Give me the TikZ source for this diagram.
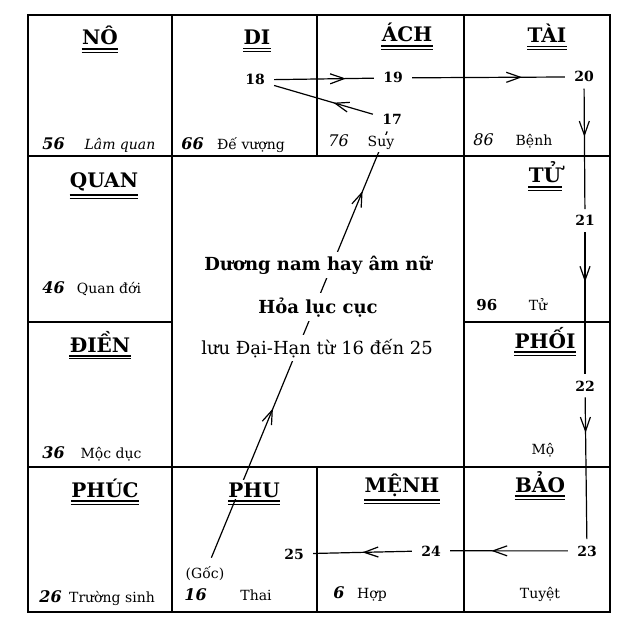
\documentclass[tikz,border=0pt]{standalone}
\usepackage{fontspec}
\setmainfont{DejaVu Serif}
\usetikzlibrary{arrows.meta,decorations.markings,backgrounds}

\tikzset{
  wall/.style={line width=1pt},
  palace/.style={font=\bfseries\fontsize{10}{12}\selectfont, inner xsep=0pt, inner ysep=1pt, anchor=base,
    append after command={
      ([yshift=-0.6pt]\tikzlastnode.south west) edge[line width=0.9pt] ([yshift=-0.6pt]\tikzlastnode.south east)
      ([yshift=-2.2pt]\tikzlastnode.south west) edge[line width=0.4pt] ([yshift=-2.2pt]\tikzlastnode.south east)}},
  age/.style={font=\bfseries\itshape\fontsize{8}{10}\selectfont, anchor=base west, inner sep=0pt},
  stage/.style={font=\fontsize{7}{8.5}\selectfont, anchor=base, inner sep=1pt},
  yr/.style={font=\bfseries\fontsize{7}{8.5}\selectfont, anchor=base, inner xsep=4.5pt, inner ysep=3pt},
  note/.style={font=\bfseries\fontsize{9}{11}\selectfont, anchor=base, inner sep=2pt, fill=white},
  hide line/.style={fill=white},
  link/.style={line width=0.6pt},
  flow/.style={postaction={decorate, decoration={markings,
    mark=at position #1 with {\arrow{Straight Barb[length=7pt,width=5pt]}}}}}
}

\begin{document}
\begin{tikzpicture}[x=0.5pt, y=-0.5pt]
  \useasboundingbox (0,0) rectangle (620,620);

  % the twelve palaces
  \draw[wall] (28,15) rectangle (610,612);
  \draw[wall] (28,156) -- (610,156);
  \draw[wall] (28,467) -- (610,467);
  \draw[wall] (28,322) -- (172,322);
  \draw[wall] (464,322) -- (610,322);
  \draw[wall] (172,15) -- (172,612);
  \draw[wall] (464,15) -- (464,612);
  \draw[wall] (317,15) -- (317,156);
  \draw[wall] (317,467) -- (317,612);

  \node[palace] (no) at (100,45) {NÔ};
  \node[palace] (di) at (257,45) {DI};
  \node[palace] (ach) at (407,42) {ÁCH};
  \node[palace] (tai) at (547,43) {TÀI};
  \node[palace] (quan) at (104,188) {QUAN};
  \node[palace] (tu) at (545,183) {TỬ};
  \node[palace] (dien) at (100,352) {ĐIỀN};
  \node[palace] (phoi) at (545,348) {PHỐI};
  \node[palace] (phuc) at (105,497) {PHÚC};
  \node[palace, hide line] (phu) at (254,497) {PHU};
  \node[palace] (menh) at (402,492) {MỆNH};
  \node[palace] (bao) at (540,492) {BẢO};

  % ages and stages
  \node[age] (a56) at (42,150) {56};
  \node[stage, font=\itshape\fontsize{7}{8.5}\selectfont] (s56) at (120,150) {Lâm quan};
  \node[age] (a66) at (181,150) {66};
  \node[stage] (s66) at (251,150) {Đế vượng};
  \node[age, font=\itshape\fontsize{8}{10}\selectfont] (a76) at (328,147) {76};
  \node[stage, hide line] (s76) at (381,147) {Suy};
  \node[age, font=\itshape\fontsize{8}{10}\selectfont] (a86) at (473,146) {86};
  \node[stage] (s86) at (534,146) {Bệnh};
  \node[age] (a46) at (42,293) {46};
  \node[stage] (s46) at (109,293) {Quan đới};
  \node[age] (a36) at (42,458) {36};
  \node[stage] (s36) at (111,458) {Mộc dục};
  \node[age, font=\bfseries\fontsize{7.5}{9}\selectfont] (a96) at (476,310) {96};
  \node[stage] (s96) at (538,310) {Tử};
  \node[stage] (s106) at (543,454) {Mộ};
  \node[age] (a26) at (39,602) {26};
  \node[stage] (s26) at (112,602) {Trường sinh};
  \node[stage, inner sep=4pt] (goc) at (205,578) {(Gốc)};
  \node[age] (a16) at (184,600) {16};
  \node[stage] (s16) at (256,600) {Thai};
  \node[age] (a6) at (333,598) {6};
  \node[stage] (s6) at (372,598) {Hợp};
  \node[stage] (s116) at (540,598) {Tuyệt};

  % centre
  \node[note] (t1) at (318,270) {Dương nam hay âm nữ};
  \node[note] (t2) at (318,313) {Hỏa lục cục};
  \node[note, font=\fontsize{9}{11}\selectfont] (t3) at (317,354) {lưu Đại-Hạn từ 16 đến 25};

  % years of the big period
  \node[yr] (n17) at (392,125) {17};
  \node[yr] (n18) at (255,85) {18};
  \node[yr] (n19) at (393,83) {19};
  \node[yr] (n20) at (584,82) {20};
  \node[yr] (n21) at (585,226) {21};
  \node[yr] (n22) at (585,391) {22};
  \node[yr] (n23) at (587,556) {23};
  \node[yr] (n24) at (431,556) {24};
  \node[yr] (n25) at (294,559) {25};

  \draw[link, flow=0.4] (n17) -- (n18);
  \draw[link, flow=0.72] (n18) -- (n19);
  \draw[link, flow=0.72] (n19) -- (n20);
  \draw[link, flow=0.4] (n20) -- (n21);
  \draw[link, flow=0.35] (n21) -- (n22);
  \draw[link, flow=0.25] (n22) -- (n23);
  \draw[link, flow=0.65] (n23) -- (n24);
  \draw[link, flow=0.5] (n24) -- (n25);
  \begin{scope}[on background layer]
    \draw[link, flow=0.35, flow=0.86] (goc) -- (n17);
  \end{scope}
\end{tikzpicture}
\end{document}
